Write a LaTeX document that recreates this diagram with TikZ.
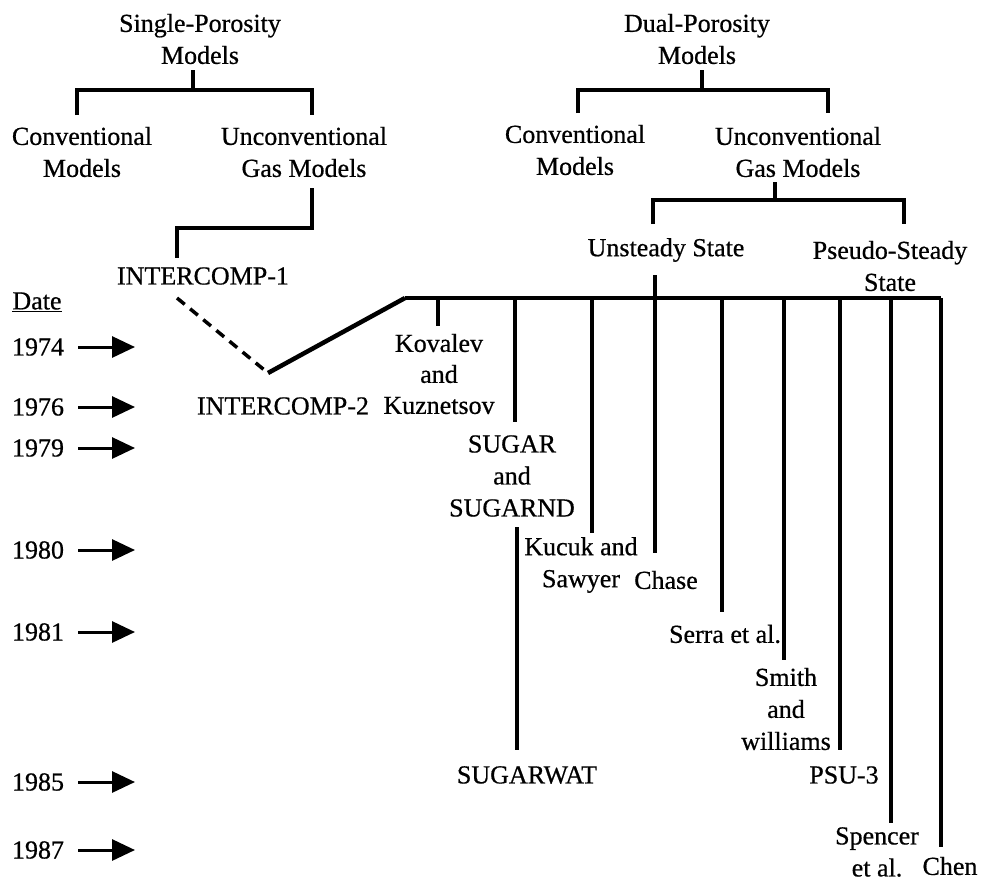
\documentclass[tikz,border=0pt]{standalone}
\usepackage{fontspec}
\setmainfont{Liberation Serif}[FakeBold=0.6]
\usetikzlibrary{arrows.meta}
\begin{document}
\begin{tikzpicture}[x=1pt,y=-1pt,
  lbl/.style={align=center,inner sep=0pt,font=\fontsize{26}{32}\selectfont},
  lbt/.style={align=center,inner sep=0pt,font=\fontsize{26}{31}\selectfont},
  ln/.style={line width=3.2pt},
  datearrow/.style={line width=3pt,-{Triangle[length=23pt,width=21pt]}},
]
\useasboundingbox (0,0) rectangle (982,887);

% ---------- Single-porosity tree ----------
\node[lbl] (sp)  at (200,39)  {Single-Porosity\\Models};
\node[lbl] (spc) at (82,152)  {Conventional\\Models};
\node[lbl] (spu) at (304,152) {Unconventional\\Gas Models};
\coordinate (spA) at (193,70);
\coordinate (spB) at (193,90);
\coordinate (spL) at (77,115);
\coordinate (spR) at (312,115);
\draw[ln] (spA) -- (spB);
\draw[ln] (spL) |- (spB) -| (spR);

\node[lbl] (ic1) at (203,276) {INTERCOMP-1};
\coordinate (uA) at (312,188);
\coordinate (uB) at (177,228);
\coordinate (ic1T) at (177,258);
\draw[ln] (uA) -- (uA |- uB) -- (uB) -- (ic1T);

\node[lbl] (ic2) at (283,406) {INTERCOMP-2};
\coordinate (ic1b) at (177,298);
\coordinate (ic2p) at (268,373);
\coordinate (mlS) at (405,298);
\coordinate (mlE) at (941,298);
\draw[line width=3.5pt,dash pattern=on 10pt off 7pt] (ic1b) -- (ic2p);
\draw[line width=4.5pt,line join=round] (ic2p) -- (mlS);
\draw[ln] (mlS) -- (mlE);

% ---------- Dual-porosity tree ----------
\node[lbl] (dp)  at (697,39)  {Dual-Porosity\\Models};
\node[lbl] (dpc) at (575,150) {Conventional\\Models};
\node[lbl] (dpu) at (798,152) {Unconventional\\Gas Models};
\coordinate (dpA) at (702,70);
\coordinate (dpB) at (702,90);
\coordinate (dpL) at (578,113);
\coordinate (dpR) at (828,113);
\draw[ln] (dpA) -- (dpB);
\draw[ln] (dpL) |- (dpB) -| (dpR);

\node[lbl] (us) at (666,250) {Unsteady State};
\node[lbl] (ps) at (890,266) {Pseudo-Steady\\State};
\coordinate (gA) at (775,182);
\coordinate (gB) at (775,200);
\coordinate (gL) at (653,224);
\coordinate (gR) at (904,224);
\draw[ln] (gA) -- (gB);
\draw[ln] (gL) |- (gB) -| (gR);

% ---------- Model labels ----------
\node[lbt] (kk)  at (439,374) {Kovalev\\and\\Kuznetsov};
\node[lbl] (sg)  at (512,476) {SUGAR\\and\\SUGARND};
\node[lbl] (ks)  at (581,565) {Kucuk and\\Sawyer};
\node[lbl] (ch)  at (666,580) {Chase};
\node[lbl] (se)  at (725,634) {Serra et al.};
\node[lbl] (sw)  at (786,709) {Smith\\and\\williams};
\node[lbl] (psu) at (844,775) {PSU-3};
\node[lbl] (sgw) at (527,775) {SUGARWAT};
\node[lbl] (spn) at (877,852) {Spencer\\et al.};
\node[lbl] (chen) at (950,866) {Chen};

% ---------- Branches from main line ----------
\coordinate (b1) at (438,298);  \coordinate (e1) at (438,326);
\coordinate (b2) at (515,298);  \coordinate (e2) at (515,422);
\coordinate (b3) at (592,298);  \coordinate (e3) at (592,533);
\coordinate (b4) at (655,275);  \coordinate (e4) at (655,553);
\coordinate (b5) at (722,298);  \coordinate (e5) at (722,612);
\coordinate (b6) at (784,298);  \coordinate (e6) at (784,660);
\coordinate (b7) at (840,298);  \coordinate (e7) at (840,750);
\coordinate (b8) at (891,298);  \coordinate (e8) at (891,823);
\coordinate (b9) at (941,298);  \coordinate (e9) at (941,847);
\coordinate (w1) at (517,527);  \coordinate (w2) at (517,750);
\foreach \i in {1,...,9} {\draw[ln] (b\i) -- (e\i);}
\draw[ln] (w1) -- (w2);

% ---------- Dates ----------
\node[lbl] (date) at (37,302) {\underline{Date}};
\coordinate (arrS) at (78,0);
\coordinate (arrE) at (135,0);
\foreach \n/\yr/\yy in {d74/1974/347, d76/1976/407, d79/1979/448, d80/1980/550, d81/1981/632, d85/1985/782, d87/1987/850} {
  \node[lbl] (\n) at (38,\yy) {\yr};
  \draw[datearrow] (arrS |- \n) -- (arrE |- \n);
}
\end{tikzpicture}
\end{document}
